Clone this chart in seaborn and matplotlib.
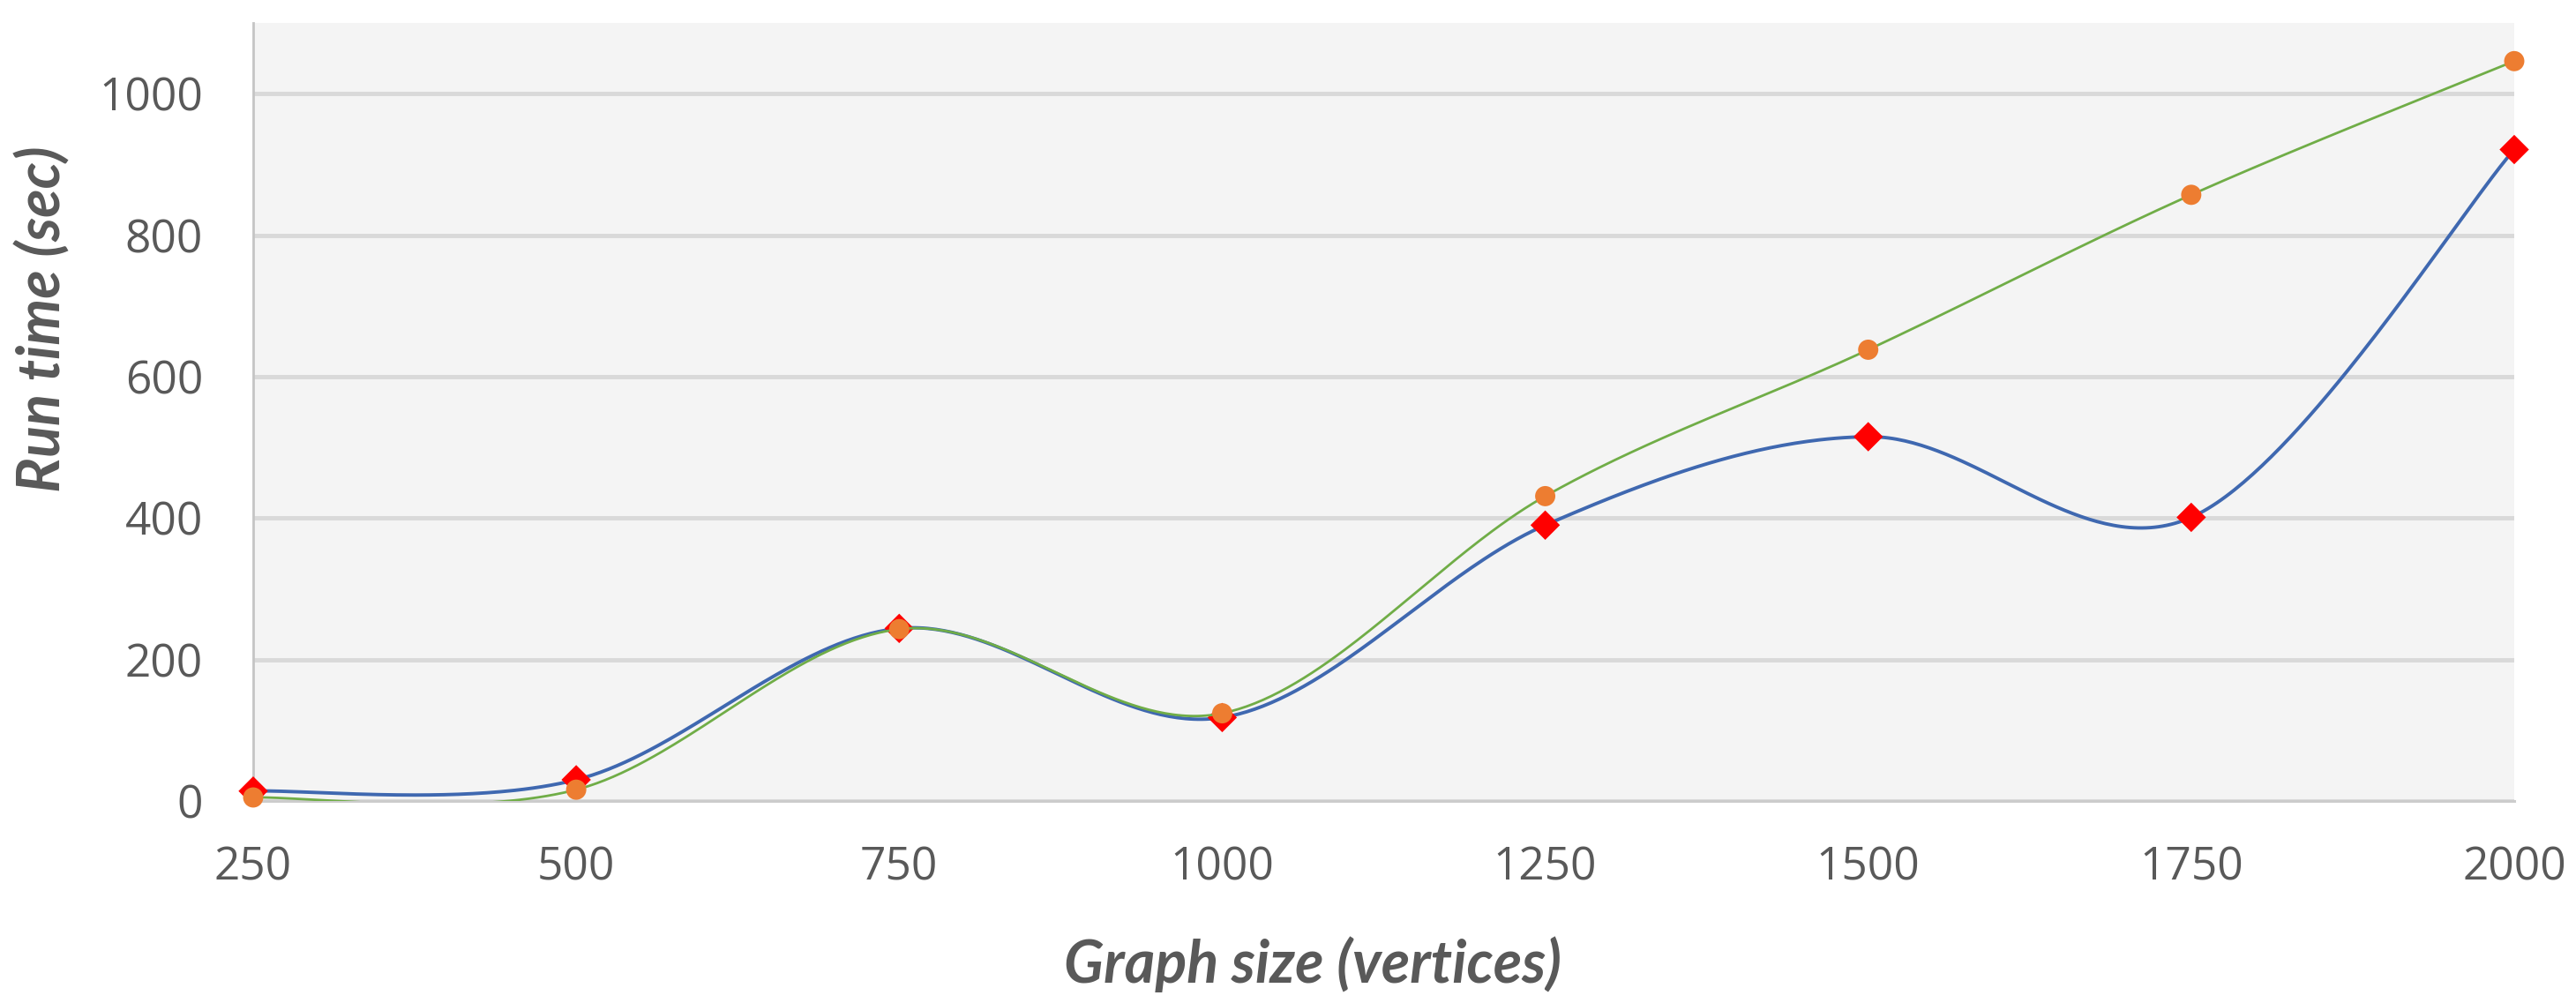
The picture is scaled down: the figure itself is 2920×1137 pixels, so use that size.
import matplotlib.pyplot as plt
import numpy as np
import pandas as pd
import seaborn as sns

# values
graph_sizes = [250, 500, 750, 1000, 1250, 1500, 1750, 2000]
blue_times = [14, 30, 244, 118, 390, 515, 401, 921]
green_times = [5, 16, 243, 124, 431, 638, 857, 1046]
x_ticks = [250, 500, 750, 1000, 1250, 1500, 1750, 2000]
y_ticks = [0, 200, 400, 600, 800, 1000]

TEXT = "#595959"


def excel_smooth(xs, ys, steps=80):
    # bezier segments with catmull-rom control points, like Excel's "smoothed line"
    pts = np.column_stack([xs, ys]).astype(float)
    padded = np.vstack([pts[:1], pts, pts[-1:]])
    t = np.linspace(0, 1, steps)[:, None]
    parts = []
    for i in range(len(pts) - 1):
        p0, p3 = pts[i], pts[i + 1]
        c1 = p0 + (p3 - padded[i]) / 6
        c2 = p3 - (padded[i + 3] - p0) / 6
        seg = (1 - t) ** 3 * p0 + 3 * (1 - t) ** 2 * t * c1 + 3 * (1 - t) * t ** 2 * c2 + t ** 3 * p3
        parts.append(seg if i == 0 else seg[1:])
    curve = np.vstack(parts)
    return pd.DataFrame({"x": curve[:, 0], "y": curve[:, 1]})


sns.set_theme(style="white")
plt.rcParams["font.family"] = ["Open Sans", "DejaVu Sans"]

fig, ax = plt.subplots(figsize=(29.2, 11.37), dpi=100)
fig.subplots_adjust(left=287 / 2920, right=2850 / 2920, bottom=1 - 908 / 1137, top=1 - 26 / 1137)
ax.set_facecolor("#F4F4F4")

points = pd.DataFrame({"size": graph_sizes, "blue": blue_times, "green": green_times})

blue_curve = excel_smooth(graph_sizes, blue_times)
green_curve = excel_smooth(graph_sizes, green_times)

sns.lineplot(data=blue_curve, x="x", y="y", sort=False, estimator=None, color="#3F68B0", linewidth=2.8, ax=ax, zorder=3)
sns.scatterplot(data=points, x="size", y="blue", marker="D", s=17 ** 2, color="#FF0000", edgecolor="none", ax=ax, zorder=4, clip_on=False)
sns.lineplot(data=green_curve, x="x", y="y", sort=False, estimator=None, color="#70AD47", linewidth=2.0, ax=ax, zorder=5)
sns.scatterplot(data=points, x="size", y="green", marker="o", s=16.5 ** 2, color="#ED7D31", edgecolor="none", ax=ax, zorder=6, clip_on=False)

ax.set_xlim(250, 2000)
ax.set_ylim(0, 1100)
ax.set_xticks(x_ticks)
ax.set_yticks(y_ticks)
ax.yaxis.grid(True, color="#D9D9D9", linewidth=3.5)
ax.xaxis.grid(False)
ax.set_axisbelow(True)

for side in ["top", "right"]:
    ax.spines[side].set_visible(False)
ax.spines["left"].set_color("#C4C4C4")
ax.spines["left"].set_linewidth(2)
ax.spines["bottom"].set_color("#CCCCCC")
ax.spines["bottom"].set_linewidth(2.2)

ax.tick_params(axis="both", length=0, labelsize=37, colors=TEXT)
ax.tick_params(axis="y", pad=41)
ax.tick_params(axis="x", pad=36)

label_font = dict(family=["Lato", "DejaVu Sans"], fontsize=48, fontweight="bold", fontstyle="italic", color=TEXT)
ax.set_xlabel("Graph size (vertices)", **label_font)
ax.set_ylabel("Run time (sec)", **label_font)
ax.xaxis.label.set_va("center")
ax.yaxis.label.set_va("center")
ax.xaxis.set_label_coords((1488 - 287) / 2563, (908 - 1093) / 882)
ax.yaxis.set_label_coords((48 - 287) / 2563, (908 - 362) / 882)

fig.savefig("out.png", dpi=100, facecolor="white")
plt.close(fig)
